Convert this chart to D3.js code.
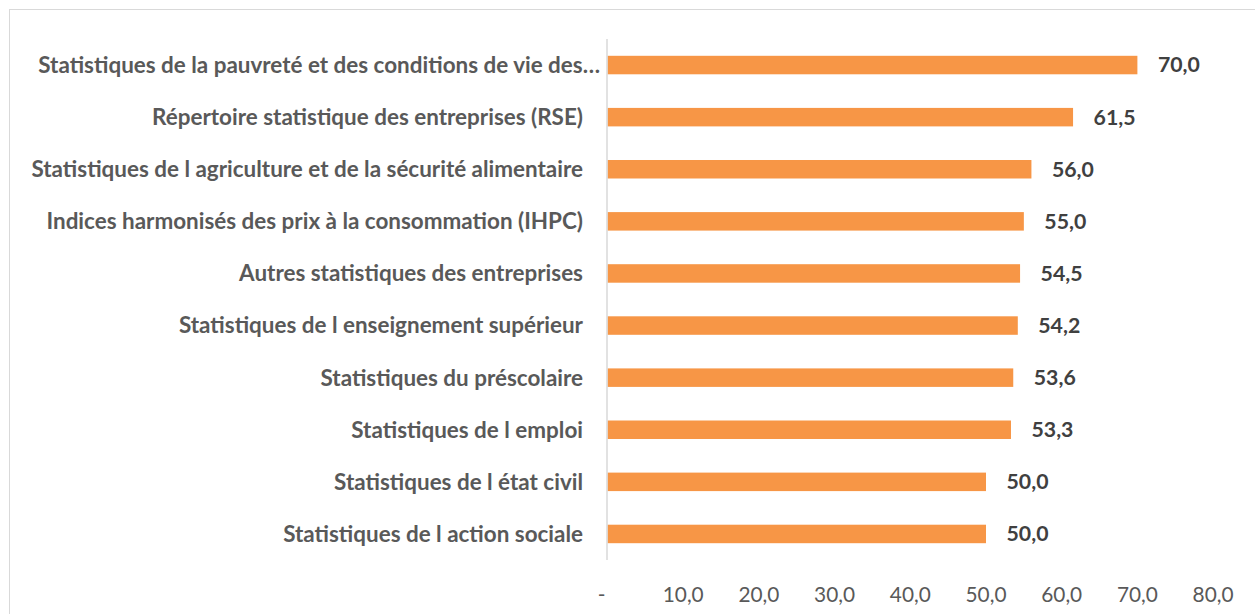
<!DOCTYPE html>
<html>
<head>
<meta charset="utf-8">
<script src="https://cdn.jsdelivr.net/npm/d3@7"></script>
<style>
  html, body { margin: 0; padding: 0; background: #fff; overflow: hidden; }
  svg { display: block; font-family: Lato, "Open Sans", sans-serif; }
</style>
</head>
<body>
<div id="chart"></div>
<script>
// chart values
const categories = [
  "Statistiques de la pauvreté et des conditions de vie des…",
  "Répertoire statistique des entreprises (RSE)",
  "Statistiques de l agriculture et de la sécurité alimentaire",
  "Indices harmonisés des prix à la consommation (IHPC)",
  "Autres statistiques des entreprises",
  "Statistiques de l enseignement supérieur",
  "Statistiques du préscolaire",
  "Statistiques de l emploi",
  "Statistiques de l état civil",
  "Statistiques de l action sociale"
];
const values = [70.0, 61.5, 56.0, 55.0, 54.5, 54.2, 53.6, 53.3, 50.0, 50.0];
const truncated = [true, false, false, false, false, false, false, false, false, false];
const tickValues = [0, 10, 20, 30, 40, 50, 60, 70, 80];

const width = 1255, height = 614;
const fmt = v => v === 0 ? "-" : d3.format(".1f")(v).replace(".", ",");

const svg = d3.select("#chart").append("svg")
    .attr("width", width)
    .attr("height", height);

// font size that makes a sample string a given width (Calibri stand-in)
function fitSize(sample, target, weight) {
  const t = svg.append("text")
      .attr("font-size", 20)
      .attr("font-weight", weight)
      .text(sample);
  const w = t.node().getComputedTextLength();
  t.remove();
  return 20 * target / w;
}
const catSize = fitSize(categories[0], 562, "bold");
const valSize = fitSize("70,0", 42, "bold");
const tickSize = fitSize("80,0", 41, "normal");

// chart area frame (runs off the page on the right and bottom)
svg.append("rect")
    .attr("x", 9.5).attr("y", 9.5)
    .attr("width", 1400).attr("height", 800)
    .attr("fill", "none")
    .attr("stroke", "#d9d9d9");

const x = d3.scaleLinear().domain([0, 80]).range([607, 1212.6]);
const y = d3.scaleBand()
    .domain(categories)
    .range([39, 560])
    .paddingInner(0.645)
    .paddingOuter(0.3225);

// bars
svg.selectAll("rect.bar")
    .data(values)
    .join("rect")
    .attr("class", "bar")
    .attr("x", x(0) + 0.5)
    .attr("y", (d, i) => y(categories[i]))
    .attr("width", d => x(d) - x(0))
    .attr("height", y.bandwidth())
    .attr("fill", "#f79646");

// vertical category axis line
svg.append("line")
    .attr("x1", x(0)).attr("x2", x(0))
    .attr("y1", 39).attr("y2", 560)
    .attr("stroke", "#d9d9d9")
    .attr("stroke-width", 1.5);

// category labels
svg.selectAll("text.cat")
    .data(categories)
    .join("text")
    .attr("class", "cat")
    .attr("x", (d, i) => x(0) - (truncated[i] ? 7 : 24))
    .attr("y", d => y(d) + y.bandwidth() / 2)
    .attr("dy", "0.35em")
    .attr("text-anchor", "end")
    .attr("font-size", catSize)
    .attr("font-weight", "bold")
    .attr("fill", "#595959")
    .text(d => d);

// value labels
svg.selectAll("text.val")
    .data(values)
    .join("text")
    .attr("class", "val")
    .attr("x", d => x(d) + 21)
    .attr("y", (d, i) => y(categories[i]) + y.bandwidth() / 2)
    .attr("dy", "0.35em")
    .attr("font-size", valSize)
    .attr("font-weight", "bold")
    .attr("fill", "#404040")
    .text(fmt);

// bottom value axis (labels only)
const xAxis = d3.axisBottom(x)
    .tickValues(tickValues)
    .tickFormat(fmt)
    .tickSize(0)
    .tickPadding(0);

const gx = svg.append("g")
    .attr("transform", "translate(0,587)")
    .call(xAxis);
gx.select(".domain").remove();
gx.selectAll("text")
    .attr("font-family", "Lato, 'Open Sans', sans-serif")
    .attr("font-size", tickSize)
    .attr("fill", "#595959");
gx.selectAll(".tick").filter(d => d === 0).select("text").attr("dx", -6);
</script>
</body>
</html>
